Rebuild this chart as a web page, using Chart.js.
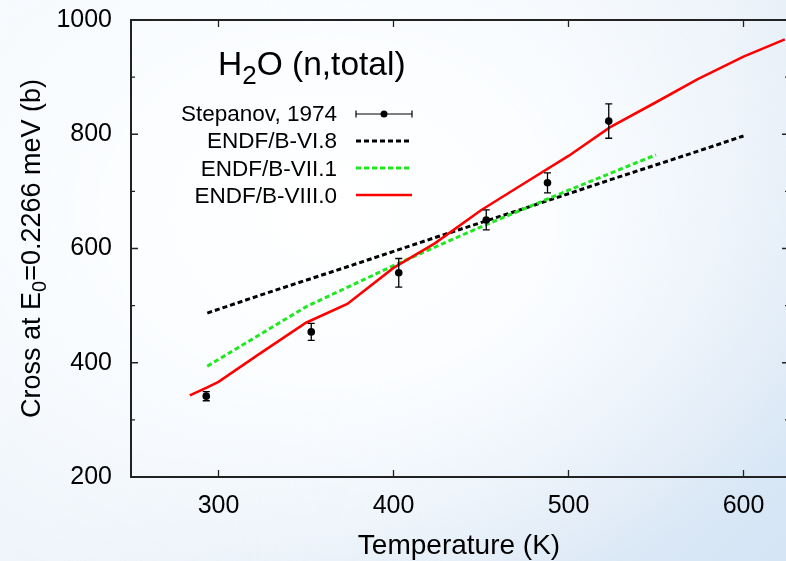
<!DOCTYPE html>
<html><head><meta charset="utf-8">
<script src="https://cdn.jsdelivr.net/npm/chart.js@4.4.1/dist/chart.umd.min.js"></script>
<style>
html,body{margin:0;padding:0;overflow:hidden;width:786px;height:561px;}
body{background:
  radial-gradient(ellipse 70% 75% at 42% 38%, #ffffff 0%, #fbfdff 40%, rgba(255,255,255,0) 100%),
  linear-gradient(135deg, #f4f8fc 0%, #eef4fa 45%, #dde9f6 80%, #d5e5f5 100%);}
#wrap{position:absolute;left:0;top:0;width:800px;height:561px;}
</style></head><body>
<div id="wrap"><canvas id="c" width="800" height="561"></canvas></div>
<script>
// ---- data ----
const stepanovT   = [293, 353, 403, 453, 488, 523];
const stepanovXS  = [341.5, 454, 557.5, 650, 715, 823];
const stepanovErr = [8, 15, 25, 17.5, 17.5, 30];

const endf6T  = [293.6, 323.6, 373.6, 423.6, 473.6, 523.6, 573.6, 600];
const endf6XS = [487, 518, 568, 619, 669, 720, 770, 797];

const endf7T  = [293.6, 350, 400, 450, 500, 550];
const endf7XS = [394, 498, 570, 638, 702, 764];

const endf8T  = [283.6, 293.6, 300, 323.6, 350, 373.6, 400, 423.6, 450, 473.6, 500, 523.6, 550, 573.6, 600, 623.6];
const endf8XS = [343, 357, 366.5, 416, 470, 503, 566, 609, 667, 712, 762, 812, 856, 896, 936, 966];

const xTickValues = [300, 400, 500, 600];
const yTickValues = [200, 400, 600, 800, 1000];
const yMinorValues = [300, 500, 700, 900];

const seriesNames = ['Stepanov, 1974', 'ENDF/B-VI.8', 'ENDF/B-VII.1', 'ENDF/B-VIII.0'];
const titleMain = ['H', '2', 'O (n,total)'];
const xTitle = 'Temperature (K)';
const yTitleParts = ['Cross at E', '0', '=0.2266 meV (b)'];

// ---- build chart ----
const toXY = (xs, ys) => xs.map((x, i) => ({x: x, y: ys[i]}));
const FONT = '"Liberation Sans", Arial, Helvetica, sans-serif';

const framePlugin = {
  id: 'frame',
  afterDatasetsDraw(chart) {
    const ctx = chart.ctx;
    const xs = chart.scales.x, ys = chart.scales.y;
    // error bars
    ctx.save();
    ctx.strokeStyle = '#000'; ctx.lineWidth = 1.3;
    stepanovT.forEach((t, i) => {
      const px = xs.getPixelForValue(t);
      const y1 = ys.getPixelForValue(stepanovXS[i] - stepanovErr[i]);
      const y2 = ys.getPixelForValue(stepanovXS[i] + stepanovErr[i]);
      ctx.beginPath();
      ctx.moveTo(px, y1); ctx.lineTo(px, y2);
      ctx.moveTo(px - 3.5, y1); ctx.lineTo(px + 3.5, y1);
      ctx.moveTo(px - 3.5, y2); ctx.lineTo(px + 3.5, y2);
      ctx.stroke();
    });
    ctx.restore();
  },
  afterDraw(chart) {
    const ctx = chart.ctx, a = chart.chartArea;
    const xs = chart.scales.x, ys = chart.scales.y;
    ctx.save();
    // frame
    ctx.strokeStyle = '#222'; ctx.lineWidth = 2;
    ctx.strokeRect(a.left, a.top, a.right - a.left, a.bottom - a.top);
    // ticks (inward)
    ctx.lineWidth = 1.3;
    ctx.beginPath();
    xTickValues.forEach(v => {
      const p = xs.getPixelForValue(v);
      ctx.moveTo(p, a.bottom); ctx.lineTo(p, a.bottom - 7);
      ctx.moveTo(p, a.top); ctx.lineTo(p, a.top + 7);
    });
    yTickValues.forEach(v => {
      const p = ys.getPixelForValue(v);
      ctx.moveTo(a.left, p); ctx.lineTo(a.left + 7, p);
      ctx.moveTo(a.right, p); ctx.lineTo(a.right - 7, p);
    });
    yMinorValues.forEach(v => {
      const p = ys.getPixelForValue(v);
      ctx.moveTo(a.left, p); ctx.lineTo(a.left + 4, p);
      ctx.moveTo(a.right, p); ctx.lineTo(a.right - 4, p);
    });
    ctx.stroke();

    ctx.fillStyle = '#000';
    // main title with subscript
    let tx = 218;
    ctx.textBaseline = 'alphabetic'; ctx.textAlign = 'left';
    ctx.font = '33.5px ' + FONT;
    ctx.fillText(titleMain[0], tx, 75); tx += ctx.measureText(titleMain[0]).width;
    ctx.font = '26px ' + FONT;
    ctx.fillText(titleMain[1], tx, 84); tx += ctx.measureText(titleMain[1]).width;
    ctx.font = '33.5px ' + FONT;
    ctx.fillText(titleMain[2], tx, 75);

    // legend
    const rowsBase = [121, 148, 176, 203];
    const rowsLine = [114, 141, 168, 195];
    const lx1 = 356, lx2 = 412;
    ctx.font = '22.5px ' + FONT; ctx.textAlign = 'right';
    seriesNames.forEach((n, i) => ctx.fillText(n, 337, rowsBase[i]));
    const dsets = chart.data.datasets;
    // Stepanov sample
    ctx.strokeStyle = '#000'; ctx.lineWidth = 1.2; ctx.setLineDash([]);
    ctx.beginPath();
    ctx.moveTo(lx1, rowsLine[0]); ctx.lineTo(lx2, rowsLine[0]);
    ctx.moveTo(lx1, rowsLine[0] - 3.5); ctx.lineTo(lx1, rowsLine[0] + 3.5);
    ctx.moveTo(lx2, rowsLine[0] - 3.5); ctx.lineTo(lx2, rowsLine[0] + 3.5);
    ctx.stroke();
    ctx.beginPath(); ctx.arc((lx1 + lx2) / 2, rowsLine[0], 3.5, 0, Math.PI * 2); ctx.fill();
    for (let i = 1; i < 4; i++) {
      const d = dsets[i];
      ctx.strokeStyle = d.borderColor; ctx.lineWidth = d.borderWidth;
      ctx.setLineDash(d.borderDash || []);
      ctx.beginPath(); ctx.moveTo(lx1, rowsLine[i]); ctx.lineTo(lx2, rowsLine[i]); ctx.stroke();
    }
    ctx.setLineDash([]);

    // x title
    ctx.font = '28px ' + FONT; ctx.textAlign = 'center';
    ctx.fillText(xTitle, 459, 554);

    // y title (rotated, with subscript)
    ctx.save();
    ctx.translate(40, (a.top + a.bottom) / 2);
    ctx.rotate(-Math.PI / 2);
    ctx.textAlign = 'left';
    const f1 = '27px ' + FONT, f2 = '20px ' + FONT;
    ctx.font = f1; const w0 = ctx.measureText(yTitleParts[0]).width, w2 = ctx.measureText(yTitleParts[2]).width;
    ctx.font = f2; const w1 = ctx.measureText(yTitleParts[1]).width;
    let sx = -(w0 + w1 + w2) / 2;
    ctx.font = f1; ctx.fillText(yTitleParts[0], sx, 0); sx += w0;
    ctx.font = f2; ctx.fillText(yTitleParts[1], sx, 6); sx += w1;
    ctx.font = f1; ctx.fillText(yTitleParts[2], sx, 0);
    ctx.restore();

    ctx.restore();
  }
};

new Chart(document.getElementById('c'), {
  type: 'line',
  data: {
    datasets: [
      { label: seriesNames[0], data: toXY(stepanovT, stepanovXS), showLine: false,
        pointRadius: 3.8, pointBackgroundColor: '#000', pointBorderColor: '#000', pointBorderWidth: 0, order: 0 },
      { label: seriesNames[1], data: toXY(endf6T, endf6XS), borderColor: '#000', borderWidth: 3,
        borderDash: [5, 3], pointRadius: 0, fill: false, tension: 0, order: 3 },
      { label: seriesNames[2], data: toXY(endf7T, endf7XS), borderColor: '#1ee81e', borderWidth: 3,
        borderDash: [5, 3], pointRadius: 0, fill: false, tension: 0, order: 2 },
      { label: seriesNames[3], data: toXY(endf8T, endf8XS), borderColor: '#ff0000', borderWidth: 2.6,
        pointRadius: 0, fill: false, tension: 0, order: 1 }
    ]
  },
  options: {
    responsive: false, animation: false, devicePixelRatio: 1,
    layout: { padding: { top: 20, right: 11, left: 0, bottom: 0 } },
    plugins: { legend: { display: false }, tooltip: { enabled: false } },
    scales: {
      x: { type: 'linear', min: 250, max: 626,
        afterBuildTicks: s => { s.ticks = xTickValues.map(v => ({ value: v })); },
        afterFit: s => { s.height = 84; s.paddingLeft = 0; s.paddingRight = 0; },
        grid: { display: false, drawTicks: false }, border: { display: false },
        ticks: { color: '#000', padding: 14, maxRotation: 0, callback: v => String(v), font: { family: FONT, size: 25 } } },
      y: { type: 'linear', min: 200, max: 1000,
        afterBuildTicks: s => { s.ticks = yTickValues.map(v => ({ value: v })); },
        afterFit: s => { s.width = 131; s.paddingTop = 0; s.paddingBottom = 0; },
        grid: { display: false, drawTicks: false }, border: { display: false },
        ticks: { color: '#000', padding: 19, callback: v => String(v), font: { family: FONT, size: 25 } } }
    }
  },
  plugins: [framePlugin]
});
</script>
</body></html>
